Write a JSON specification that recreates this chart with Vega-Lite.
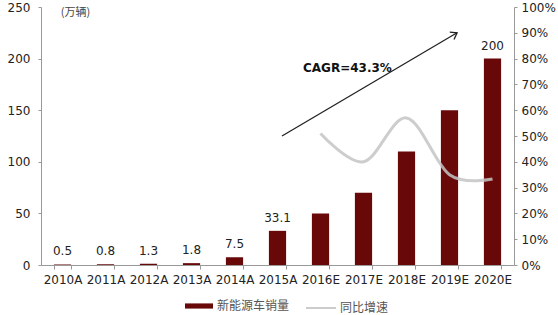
{
  "$schema": "https://vega.github.io/schema/vega-lite/v6.json",
  "width": 473,
  "height": 258,
  "autosize": "none",
  "padding": {"left": 41, "top": 7, "right": 44, "bottom": 50},
  "background": "white",
  "config": {
    "font": "DejaVu Sans",
    "view": {"stroke": null},
    "axis": {"labelFont": "DejaVu Sans", "labelFontSize": 12, "labelColor": "#222", "domainColor": "#999", "tickColor": "#999", "grid": false},
    "legend": {"labelFont": "Noto Sans CJK SC", "labelFontSize": 12, "labelColor": "#555", "labelLimit": 300}
  },
  "datasets": {
    "sales": [
      {"year": "2010A", "sales": 0.5, "label": "0.5"},
      {"year": "2011A", "sales": 0.8, "label": "0.8"},
      {"year": "2012A", "sales": 1.3, "label": "1.3"},
      {"year": "2013A", "sales": 1.8, "label": "1.8"},
      {"year": "2014A", "sales": 7.5, "label": "7.5"},
      {"year": "2015A", "sales": 33.1, "label": "33.1"},
      {"year": "2016E", "sales": 50, "label": ""},
      {"year": "2017E", "sales": 70, "label": ""},
      {"year": "2018E", "sales": 110, "label": ""},
      {"year": "2019E", "sales": 150, "label": ""},
      {"year": "2020E", "sales": 200, "label": "200"}
    ],
    "growth": [
      {"year": "2016E", "growth": 0.51},
      {"year": "2017E", "growth": 0.40},
      {"year": "2018E", "growth": 0.57},
      {"year": "2019E", "growth": 0.35},
      {"year": "2020E", "growth": 0.333}
    ],
    "arrow": [
      {"x1": "2015A", "y1": 125, "x2": "2019E", "y2": 225}
    ],
    "cagr": [
      {"year": "2016E", "v": 191, "text": "CAGR=43.3%"}
    ]
  },
  "layer": [
    {
      "layer": [
        {
          "data": {"name": "sales"},
          "mark": {"type": "bar"},
          "encoding": {
            "x": {
              "field": "year", "type": "ordinal",
              "scale": {"paddingInner": 0.6, "paddingOuter": 0.3},
              "axis": {"title": null, "labelAngle": 0, "tickBand": "extent", "tickSize": 4, "labelPadding": 5, "labelFontSize": 12}
            },
            "y": {
              "field": "sales", "type": "quantitative",
              "scale": {"domain": [0, 250], "nice": false},
              "axis": {"title": "(万辆)", "titleAngle": 0, "titleX": 34, "titleY": 5, "titleAlign": "center", "titleBaseline": "middle", "titleFont": "Noto Sans CJK SC", "titleFontSize": 11, "titleFontWeight": "normal", "titleColor": "#444", "values": [0, 50, 100, 150, 200, 250], "tickSize": 3, "labelPadding": 8}
            },
            "fill": {"datum": "新能源车销量", "type": "nominal", "scale": {"range": ["#680808"]},
              "legend": {"title": null, "orient": "none", "legendX": 144, "legendY": 285, "symbolType": "M-1,-0.185H1V0.185H-1Z", "symbolSize": 784, "symbolStrokeWidth": 0, "labelOffset": 4}}
          }
        },
        {
          "data": {"name": "sales"},
          "mark": {"type": "text", "dy": -6, "baseline": "bottom", "fontSize": 12, "color": "#222"},
          "encoding": {
            "x": {"field": "year", "type": "ordinal"},
            "y": {"field": "sales", "type": "quantitative"},
            "text": {"field": "label"}
          }
        },
        {
          "data": {"name": "arrow"},
          "mark": {"type": "rule", "color": "#222", "strokeWidth": 1.3},
          "encoding": {
            "x": {"field": "x1", "type": "ordinal", "bandPosition": 0.76},
            "x2": {"field": "x2", "bandPosition": 0.94},
            "y": {"field": "y1", "type": "quantitative"},
            "y2": {"field": "y2"}
          }
        },
        {
          "data": {"name": "arrow"},
          "mark": {"type": "point", "shape": "M-1,-0.7L0,0L-1,0.7", "filled": false, "size": 144, "stroke": "#222", "strokeWidth": 1.3, "angle": 329.5, "opacity": 1},
          "encoding": {
            "x": {"field": "x2", "type": "ordinal", "bandPosition": 0.94},
            "y": {"field": "y2", "type": "quantitative"}
          }
        },
        {
          "data": {"name": "cagr"},
          "mark": {"type": "text", "align": "left", "baseline": "middle", "fontSize": 12, "fontWeight": "bold", "color": "#111"},
          "encoding": {
            "x": {"field": "year", "type": "ordinal", "bandPosition": -0.52},
            "y": {"field": "v", "type": "quantitative"},
            "text": {"field": "text"}
          }
        }
      ]
    },
    {
      "data": {"name": "growth"},
      "mark": {"type": "line", "interpolate": "cardinal", "strokeWidth": 3, "opacity": 0.85},
      "encoding": {
        "x": {"field": "year", "type": "ordinal"},
        "y": {
          "field": "growth", "type": "quantitative",
          "scale": {"domain": [0, 1], "nice": false},
          "axis": {"orient": "right", "title": null, "format": ".0%", "values": [0, 0.1, 0.2, 0.3, 0.4, 0.5, 0.6, 0.7, 0.8, 0.9, 1], "tickSize": 3, "labelPadding": 4}
        },
        "stroke": {"datum": "同比增速", "type": "nominal", "scale": {"range": ["#c4c4c4"]},
          "legend": {"title": null, "orient": "none", "legendX": 264, "legendY": 285, "symbolType": "stroke", "symbolSize": 900, "symbolStrokeWidth": 2, "labelOffset": 3}}
      }
    }
  ],
  "resolve": {"scale": {"y": "independent"}}
}
